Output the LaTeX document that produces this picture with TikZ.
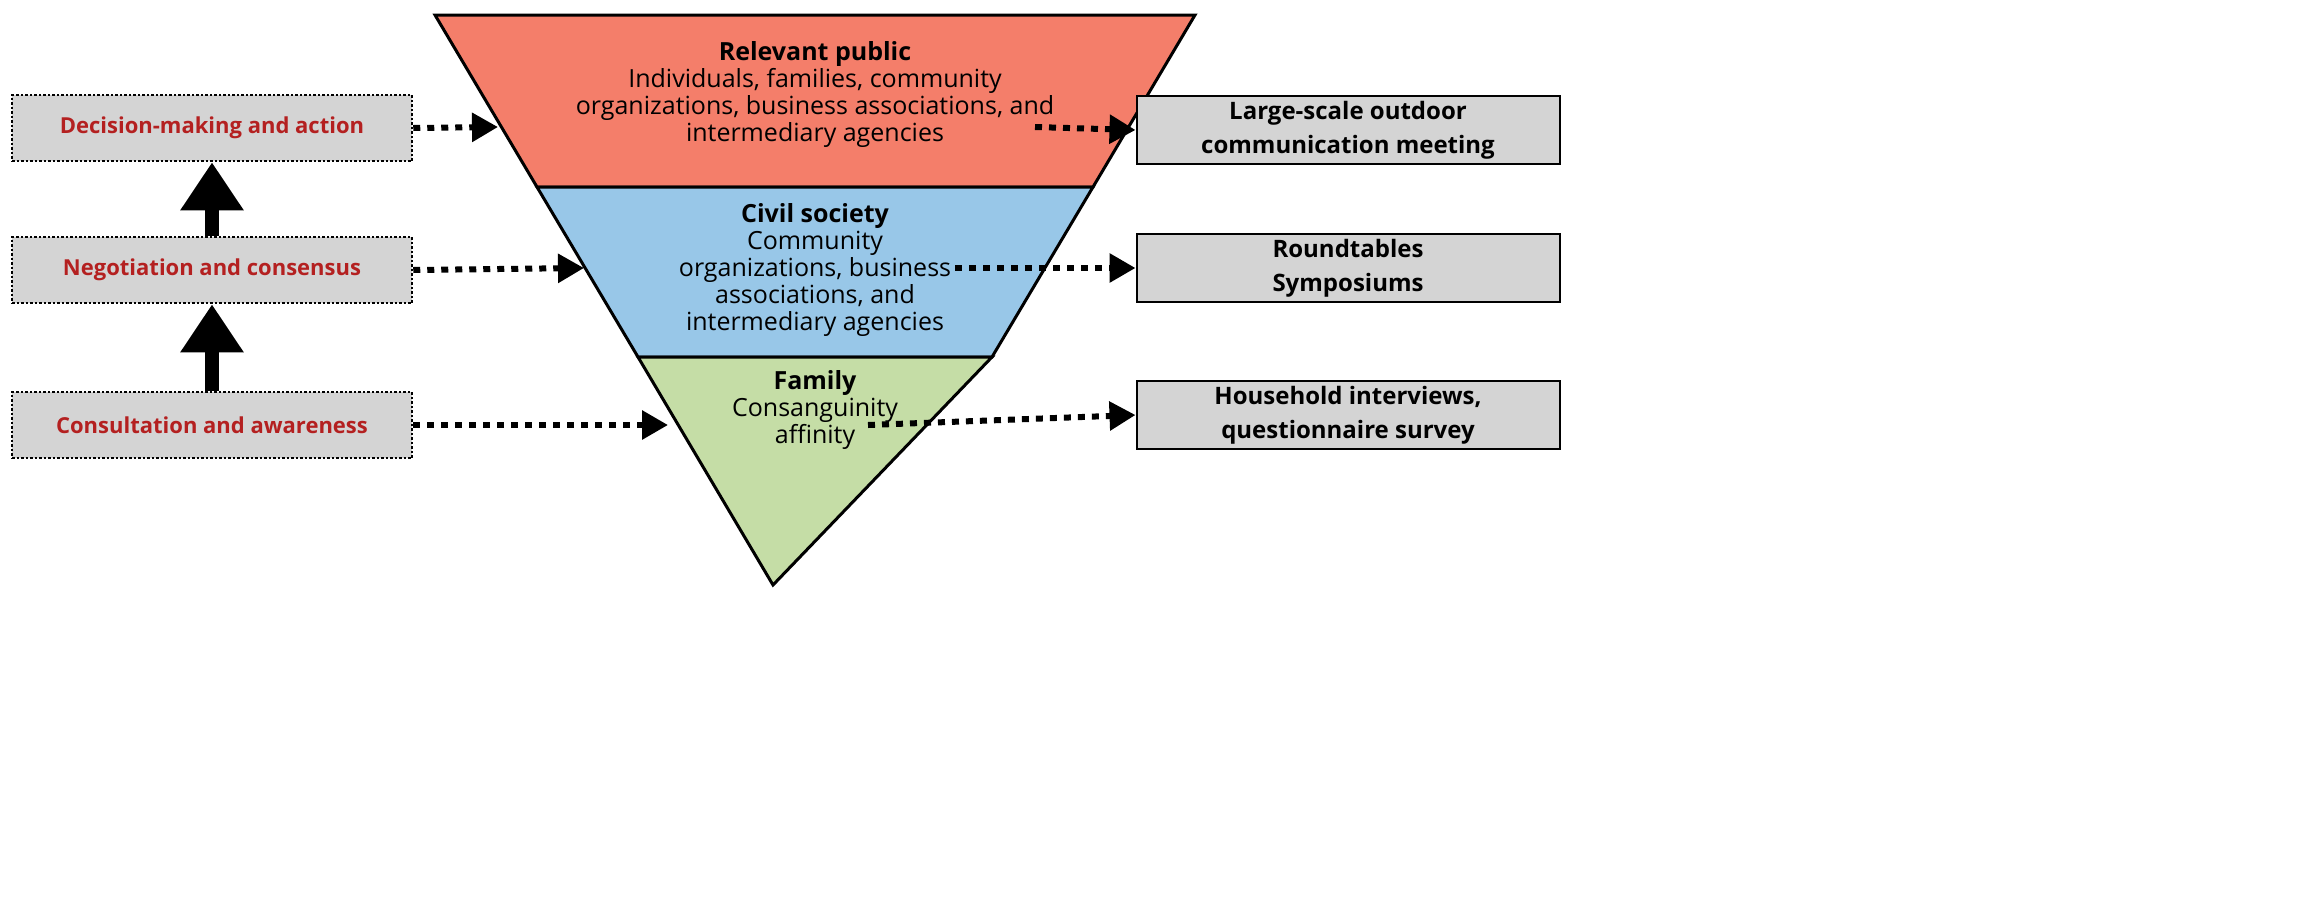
\documentclass[tikz,border=0pt]{standalone}
\usepackage{fontspec}
\setmainfont{Open Sans}
\usetikzlibrary{arrows.meta,shapes.arrows}
\definecolor{rd}{RGB}{244,126,106}
\definecolor{bl}{RGB}{152,199,232}
\definecolor{gr}{RGB}{197,221,166}
\definecolor{gy}{RGB}{212,212,212}
\definecolor{tr}{RGB}{180,32,32}
\begin{document}
\begin{tikzpicture}[x=1pt,y=-1pt,
 lbox/.style={draw,line width=2.5pt,dash pattern=on 2.5pt off 2pt,fill=gy,minimum width=400pt,minimum height=66pt,text=tr,font=\fontsize{22}{26}\selectfont\bfseries},
 rbox/.style={draw,line width=2pt,fill=gy,minimum width=423pt,minimum height=68pt,align=center,font=\fontsize{24}{34}\selectfont\bfseries},
 dar/.style={line width=6pt,dash pattern=on 7pt off 7pt,-{Triangle[length=26pt,width=28pt]}},
 ttl/.style={align=center,font=\fontsize{25}{27}\selectfont}]
\useasboundingbox (0,0) rectangle (2301,900);
\fill[white] (0,0) rectangle (2301,900);
% triangle bands
\draw[line width=3pt,fill=rd] (435,15) -- (1195,15) -- (1093,187) -- (537,187) -- cycle;
\draw[line width=3pt,fill=bl] (537,187) -- (1093,187) -- (992,357) -- (638,357) -- cycle;
\draw[line width=3pt,fill=gr] (638,357) -- (992,357) -- (773,585) -- cycle;
\coordinate (e1l) at (498,127); \coordinate (e1r) at (1035,127);
\coordinate (e2l) at (584,268); \coordinate (e2r) at (955,268);
\coordinate (e3l) at (668,425); \coordinate (e3r) at (868,425);
\node[ttl] (t1) at (815,95) {\textbf{Relevant public}\\Individuals, families, community\\organizations, business associations, and\\intermediary agencies};
\node[ttl] (t2) at (815,270) {\textbf{Civil society}\\Community\\organizations, business\\associations, and\\intermediary agencies};
\node[ttl] (t3) at (815,410) {\textbf{Family}\\Consanguinity\\affinity};
% left boxes
\node[lbox] (l1) at (212,128) {Decision-making and action};
\node[lbox] (l2) at (212,270) {Negotiation and consensus};
\node[lbox] (l3) at (212,425) {Consultation and awareness};
% right boxes
\node[rbox] (r1) at (1348,130) {Large-scale outdoor\\communication meeting};
\node[rbox] (r2) at (1348,268) {Roundtables\\Symposiums};
\node[rbox] (r3) at (1348,415) {Household interviews,\\questionnaire survey};
% up arrows
\foreach \a/\b in {l2/l1,l3/l2}
 \draw[line width=14pt,-{Triangle[length=48pt,width=60pt]}] (\a.north) -- (\b.south);
% dotted arrows
\draw[dar] (l1.east) -- (e1l);
\draw[dar] (l2.east) -- (e2l);
\draw[dar] (l3.east) -- (e3l);
\draw[dar] (e1r) -- (r1.west);
\draw[dar] (e2r) -- (r2.west);
\draw[dar] (e3r) -- (r3.west);
\end{tikzpicture}
\end{document}
